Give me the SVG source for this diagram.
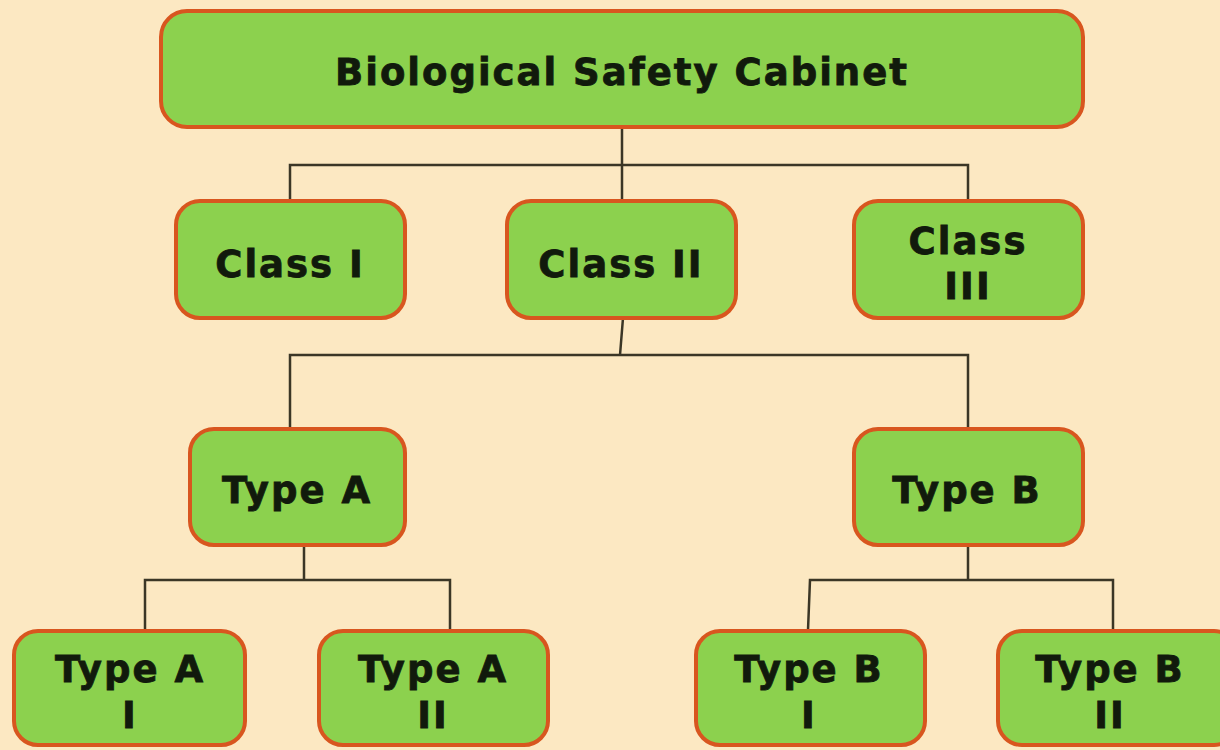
<svg xmlns="http://www.w3.org/2000/svg" width="1220" height="750" viewBox="0 0 1220 750">
<style>
.box{fill:#8cd14e;stroke:#d8561f;stroke-width:4}
.t{font-family:"DejaVu Sans",Verdana,sans-serif;font-weight:bold;font-size:37px;fill:#111a0c;stroke:#111a0c;stroke-width:0.8;text-anchor:middle;letter-spacing:2px}
.root{font-size:37px;letter-spacing:2px}
.c{fill:none;stroke:#3b3626;stroke-width:2.5}
</style>
<rect width="1220" height="750" fill="#fce8c2"/>
<g id="connectors">
<path class="c" d="M622 127V165M290 200V165H968V200M622 165V200"/>
<path class="c" d="M623 318L620 355M290 428V355H968V428"/>
<path class="c" d="M304 545V580M145 630V580H450V630"/>
<path class="c" d="M968 545V580M808 630L810 580H1113V630"/>
</g>
<g id="root"><rect class="box" x="161" y="11" width="922" height="116" rx="26"/><text class="t root" x="622" y="85">Biological Safety Cabinet</text></g>
<g id="class1"><rect class="box" x="176" y="201" width="229" height="117" rx="24"/><text class="t" x="290" y="277">Class I</text></g>
<g id="class2"><rect class="box" x="507" y="201" width="229" height="117" rx="24"/><text class="t" x="621" y="277">Class II</text></g>
<g id="class3"><rect class="box" x="854" y="201" width="229" height="117" rx="24"/><text class="t" x="968" y="254">Class</text><text class="t" x="968" y="299">III</text></g>
<g id="typeA"><rect class="box" x="190" y="429" width="215" height="116" rx="24"/><text class="t" x="297" y="503">Type A</text></g>
<g id="typeB"><rect class="box" x="854" y="429" width="229" height="116" rx="24"/><text class="t" x="967" y="503">Type B</text></g>
<g id="typeA1"><rect class="box" x="14" y="631" width="231" height="114" rx="24"/><text class="t" x="130" y="682">Type A</text><text class="t" x="130" y="728">I</text></g>
<g id="typeA2"><rect class="box" x="319" y="631" width="229" height="114" rx="24"/><text class="t" x="433" y="682">Type A</text><text class="t" x="433" y="728">II</text></g>
<g id="typeB1"><rect class="box" x="696" y="631" width="229" height="114" rx="24"/><text class="t" x="809" y="682">Type B</text><text class="t" x="809" y="728">I</text></g>
<g id="typeB2"><rect class="box" x="998" y="631" width="240" height="114" rx="24"/><text class="t" x="1110" y="682">Type B</text><text class="t" x="1110" y="728">II</text></g>
</svg>
